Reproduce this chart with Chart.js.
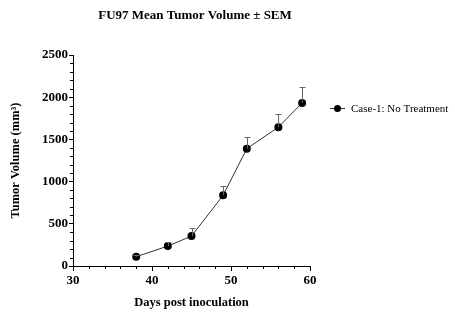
<!DOCTYPE html>
<html>
<head>
<meta charset="utf-8">
<script src="https://cdn.jsdelivr.net/npm/chart.js@4"></script>
<style>
  html, body { margin: 0; padding: 0; background: #fff; }
  #wrap { width: 455px; height: 332px; position: relative; }
</style>
</head>
<body>
<div id="wrap"><canvas id="chart" width="455" height="332"></canvas></div>
<script>
// data
const days    = [38, 42, 45, 49, 52, 56, 59];
const meanVol = [110, 236, 354, 837, 1390, 1645, 1932];
const semVol  = [15, 52, 92, 106, 138, 155, 190];
const seriesName = 'Case-1: No Treatment';
const chartTitle = 'FU97 Mean Tumor Volume ± SEM';

const SERIF = '"Liberation Serif", "Times New Roman", serif';

// upward error bars + minor ticks + title + legend
const extras = {
  id: 'extras',
  afterDatasetsDraw(chart) {
    const { ctx, scales: { x, y } } = chart;
    ctx.save();
    ctx.strokeStyle = '#666';
    ctx.lineWidth = 1;
    days.forEach((d, i) => {
      const px = Math.round(x.getPixelForValue(d)) + 0.5;
      const y0 = y.getPixelForValue(meanVol[i]);
      const y1 = Math.round(y.getPixelForValue(meanVol[i] + semVol[i])) + 0.5;
      ctx.beginPath();
      ctx.moveTo(px, y0); ctx.lineTo(px, y1);
      ctx.moveTo(px - 3, y1); ctx.lineTo(px + 3, y1);
      ctx.stroke();
    });
    ctx.restore();
  },
  afterDraw(chart) {
    const { ctx, scales: { x, y } } = chart;
    ctx.save();
    ctx.strokeStyle = '#000';
    ctx.lineWidth = 1;
    ctx.beginPath();
    for (let v = 100; v < 2500; v += 100) {
      if (v % 500 === 0) continue;
      const py = Math.round(y.getPixelForValue(v)) + 0.5;
      ctx.moveTo(x.left - 3, py); ctx.lineTo(x.left, py);
    }
    for (let v = 32; v < 60; v += 2) {
      if (v % 10 === 0) continue;
      const px = Math.round(x.getPixelForValue(v)) + 0.5;
      ctx.moveTo(px, y.bottom); ctx.lineTo(px, y.bottom + 3);
    }
    ctx.stroke();

    ctx.fillStyle = '#000';
    ctx.font = 'bold 13px ' + SERIF;
    ctx.textAlign = 'center';
    ctx.textBaseline = 'middle';
    ctx.fillText(chartTitle, 195, 16);

    // legend
    const ly = 108;
    ctx.strokeStyle = '#333';
    ctx.beginPath();
    ctx.moveTo(330, ly + 0.5); ctx.lineTo(345, ly + 0.5);
    ctx.stroke();
    ctx.beginPath();
    ctx.arc(337.5, ly + 0.5, 3.5, 0, Math.PI * 2);
    ctx.fill();
    ctx.font = '11px ' + SERIF;
    ctx.textAlign = 'left';
    ctx.fillText(seriesName, 351, ly + 1);
    ctx.restore();
  }
};

new Chart(document.getElementById('chart'), {
  type: 'scatter',
  data: {
    datasets: [{
      label: seriesName,
      data: days.map((d, i) => ({ x: d, y: meanVol[i] })),
      showLine: true,
      borderColor: '#333',
      borderWidth: 1,
      pointRadius: 4,
      pointBackgroundColor: '#000',
      pointBorderColor: '#000',
      pointBorderWidth: 0
    }]
  },
  options: {
    responsive: false,
    animation: false,
    layout: { padding: { top: 55, right: 145, left: 0, bottom: 0 } },
    plugins: { legend: { display: false }, tooltip: { enabled: false } },
    scales: {
      x: {
        type: 'linear',
        min: 30, max: 60,
        afterFit(s) { s.height = 66; },
        ticks: { stepSize: 10, color: '#000', padding: 2, callback: v => String(v), font: { family: SERIF, size: 13, weight: 'bold' } },
        grid: { drawOnChartArea: false, tickLength: 5, color: '#000' },
        border: { color: '#000', width: 1 },
        title: {
          display: true, text: 'Days post inoculation', color: '#000',
          font: { family: SERIF, size: 12.5, weight: 'bold' },
          padding: { top: 0, bottom: 22 }
        }
      },
      y: {
        min: 0, max: 2500,
        afterFit(s) { s.width = 73; },
        ticks: { stepSize: 500, color: '#000', padding: 1, callback: v => String(v), font: { family: SERIF, size: 13, weight: 'bold' } },
        grid: { drawOnChartArea: false, tickLength: 4, color: '#000' },
        border: { color: '#000', width: 1 },
        title: {
          display: true, text: 'Tumor Volume (mm³)', color: '#000',
          font: { family: SERIF, size: 12.5, weight: 'bold' },
          padding: { top: 8, bottom: 0 }
        }
      }
    }
  },
  plugins: [extras]
});
</script>
</body>
</html>
